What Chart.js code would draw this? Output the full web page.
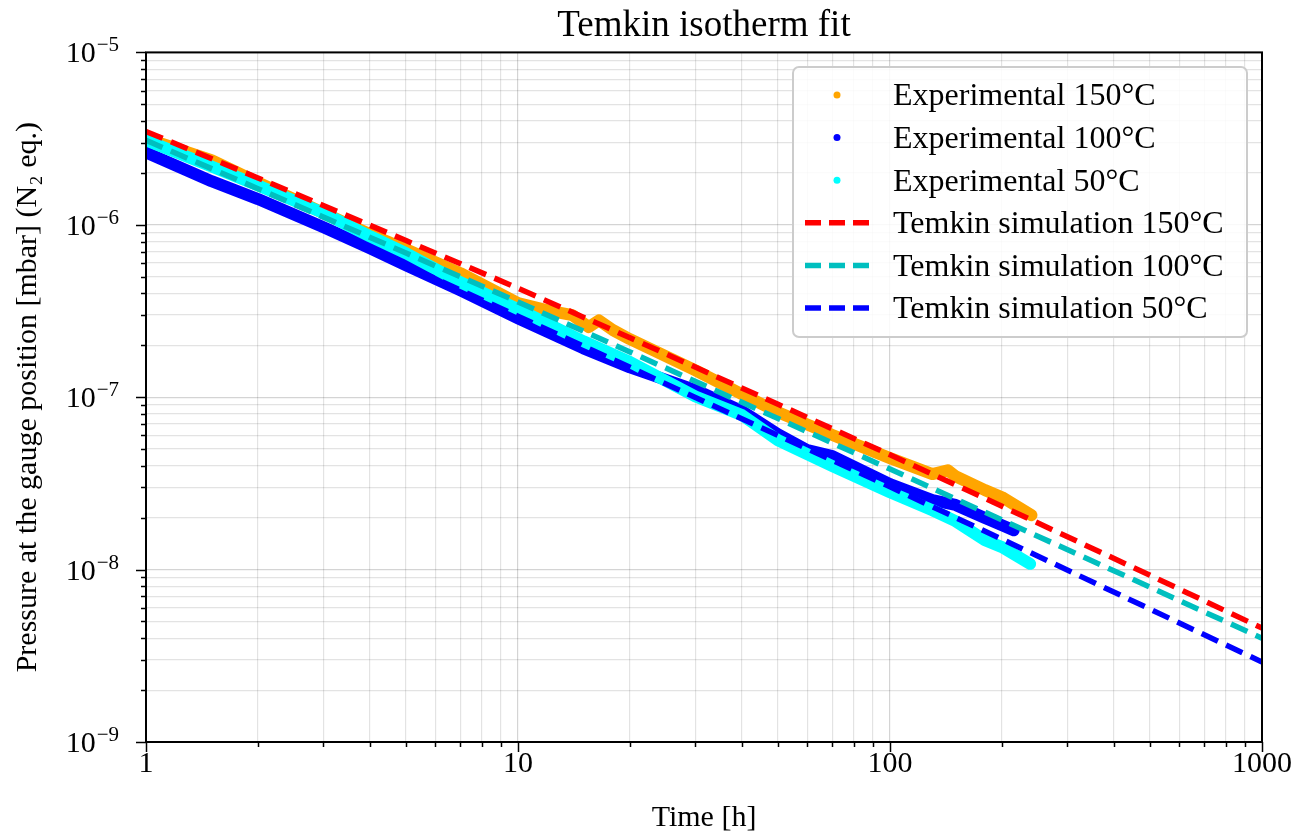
<!DOCTYPE html>
<html>
<head>
<meta charset="utf-8">
<script src="https://cdn.jsdelivr.net/npm/chart.js@4.4.0/dist/chart.umd.min.js"></script>
<style>
  html, body { margin: 0; padding: 0; background: #fff; }
  #wrap { width: 1294px; height: 836px; }
</style>
</head>
<body>
<div id="wrap"><canvas id="chart" width="1294" height="836"></canvas></div>
<script>
const FONT = '"Liberation Serif", "DejaVu Serif", serif';

// experimental data, time [h] and pressure [mbar]
const exp150Time = [1, 1.5, 2, 3, 4, 5, 7, 10, 12, 14, 15.5, 16.5, 18, 20, 30, 40, 50, 70, 100, 130, 143, 150, 180, 200, 240];
const exp150Pressure = [3.17e-6, 2.37e-6, 1.76e-6, 1.17e-6, 8.81e-7, 7.21e-7, 5.24e-7, 3.51e-7, 3.19e-7, 2.99e-7, 2.55e-7, 2.79e-7, 2.45e-7, 2.17e-7, 1.43e-7, 1.04e-7, 8.18e-8, 6.03e-8, 4.43e-8, 3.58e-8, 3.77e-8, 3.48e-8, 2.89e-8, 2.63e-8, 2.07e-8];

const exp100Time = [1, 1.5, 2, 3, 4, 5, 7, 10, 15, 20, 30, 40, 50, 60, 70, 100, 130, 150, 180, 200, 215];
const exp100Pressure = [2.63e-6, 1.79e-6, 1.41e-6, 9.68e-7, 7.31e-7, 5.82e-7, 4.17e-7, 2.87e-7, 1.92e-7, 1.49e-7, 1.10e-7, 8.30e-8, 6.10e-8, 4.93e-8, 4.55e-8, 3.13e-8, 2.53e-8, 2.37e-8, 1.99e-8, 1.81e-8, 1.69e-8];

const exp50Time = [1, 1.5, 2, 3, 4, 5, 7, 10, 15, 20, 30, 40, 50, 70, 100, 130, 150, 180, 200, 238];
const exp50Pressure = [3.09e-6, 2.18e-6, 1.69e-6, 1.17e-6, 8.58e-7, 6.84e-7, 4.64e-7, 3.24e-7, 2.11e-7, 1.60e-7, 1.01e-7, 7.87e-8, 5.63e-8, 3.98e-8, 2.81e-8, 2.21e-8, 1.91e-8, 1.48e-8, 1.35e-8, 1.08e-8];

// Temkin simulation curves
const simTime = [1, 2, 5, 10, 20, 50, 100, 200, 500, 1000];
const sim150 = [3.48e-6, 1.87e-6, 8.1e-7, 4.29e-7, 2.21e-7, 9.1e-8, 4.63e-8, 2.33e-8, 9.27e-9, 4.58e-9];
const sim100 = [3.09e-6, 1.62e-6, 6.86e-7, 3.57e-7, 1.83e-7, 7.52e-8, 3.83e-8, 1.94e-8, 7.91e-9, 4.0e-9];
const sim50 = [2.70e-6, 1.40e-6, 5.81e-7, 2.95e-7, 1.49e-7, 6.0e-8, 3.02e-8, 1.50e-8, 5.9e-9, 2.91e-9];

// ticks
const xMajorTicks = [1, 10, 100, 1000];
const xTickLabels = ['1', '10', '100', '1000'];
const yMajorTicks = [1e-9, 1e-8, 1e-7, 1e-6, 1e-5];
const yTickExponents = ['\u22129', '\u22128', '\u22127', '\u22126', '\u22125'];
const minorSteps = [2, 3, 4, 5, 6, 7, 8, 9];

const labels = ['Experimental 150°C', 'Experimental 100°C', 'Experimental 50°C',
  'Temkin simulation 150°C', 'Temkin simulation 100°C', 'Temkin simulation 50°C'];
const colors = ['#ffa500', '#0000ff', '#00ffff', '#ff0000', '#00bfbf', '#0000ff'];

function pts(xs, ys) { return xs.map((x, i) => ({ x: x, y: ys[i] })); }

function tickList(majors) {
  const out = [];
  majors.forEach((m, i) => {
    out.push({ value: m, major: true });
    if (i < majors.length - 1) minorSteps.forEach(k => out.push({ value: m * k, major: false }));
  });
  return out;
}

function expDataset(i, xs, ys, order) {
  return {
    label: labels[i], data: pts(xs, ys), borderColor: colors[i], backgroundColor: colors[i],
    borderWidth: 12, pointRadius: 0, borderJoinStyle: 'round', borderCapStyle: 'round',
    tension: 0, order: order
  };
}
function simDataset(i, ys, order) {
  return {
    label: labels[i], data: pts(simTime, ys), borderColor: colors[i], backgroundColor: colors[i],
    borderWidth: 5.5, borderDash: [18, 9], pointRadius: 0, tension: 0, order: order
  };
}

const decorations = {
  id: 'decorations',
  afterDatasetsDraw(chart) {
    const ctx = chart.ctx;
    const a = chart.chartArea;
    const xs = chart.scales.x, ys = chart.scales.y;
    ctx.save();
    ctx.strokeStyle = '#000';
    ctx.lineWidth = 1.5;
    xs.ticks.forEach(t => {
      const px = Math.round(xs.getPixelForValue(t.value)) + 0.5;
      const len = t.major ? 10 : 5;
      ctx.beginPath(); ctx.moveTo(px, a.bottom); ctx.lineTo(px, a.bottom + len); ctx.stroke();
    });
    ys.ticks.forEach(t => {
      const py = Math.round(ys.getPixelForValue(t.value)) + 0.5;
      const len = t.major ? 10 : 5;
      ctx.beginPath(); ctx.moveTo(a.left, py); ctx.lineTo(a.left - len, py); ctx.stroke();
    });
    ctx.lineWidth = 2;
    ctx.strokeRect(a.left, a.top, a.right - a.left, a.bottom - a.top);

    // y tick labels 10^n
    ctx.fillStyle = '#000';
    ctx.textBaseline = 'alphabetic';
    ctx.textAlign = 'left';
    yMajorTicks.forEach((v, i) => {
      const py = ys.getPixelForValue(v);
      ctx.font = '21px ' + FONT;
      const ew = ctx.measureText(yTickExponents[i]).width;
      ctx.font = '30px ' + FONT;
      const bw = ctx.measureText('10').width;
      const right = a.left - 27;
      ctx.fillText('10', right - ew - bw - 1, py + 10);
      ctx.font = '21px ' + FONT;
      ctx.fillText(yTickExponents[i], right - ew, py - 1);
    });
    ctx.restore();
  },
  afterDraw(chart) {
    const ctx = chart.ctx;
    ctx.save();
    const bx = 793, by = 67, bw = 454, bh = 270;
    ctx.beginPath();
    ctx.roundRect(bx, by, bw, bh, 6);
    ctx.fillStyle = 'rgba(255,255,255,0.85)';
    ctx.fill();
    ctx.strokeStyle = '#cccccc';
    ctx.lineWidth = 2;
    ctx.stroke();
    ctx.font = '32px ' + FONT;
    ctx.textBaseline = 'middle';
    ctx.textAlign = 'left';
    labels.forEach((lab, i) => {
      const y = 95 + i * 42.6;
      if (i < 3) {
        ctx.fillStyle = colors[i];
        ctx.beginPath(); ctx.arc(837, y, 3.5, 0, Math.PI * 2); ctx.fill();
      } else {
        ctx.strokeStyle = colors[i];
        ctx.lineWidth = 5.5;
        ctx.setLineDash([16, 8]);
        ctx.beginPath(); ctx.moveTo(805, y); ctx.lineTo(869, y); ctx.stroke();
        ctx.setLineDash([]);
      }
      ctx.fillStyle = '#000';
      ctx.fillText(lab, 893, y + 2);
    });
    ctx.restore();
  }
};

new Chart(document.getElementById('chart').getContext('2d'), {
  type: 'line',
  data: {
    datasets: [
      expDataset(0, exp150Time, exp150Pressure, 6),
      expDataset(1, exp100Time, exp100Pressure, 5),
      expDataset(2, exp50Time, exp50Pressure, 4),
      simDataset(3, sim150, 3),
      simDataset(4, sim100, 2),
      simDataset(5, sim50, 1)
    ]
  },
  options: {
    responsive: false,
    animation: false,
    devicePixelRatio: 1,
    layout: { padding: { left: 0, right: 32, top: 0, bottom: 0 } },
    plugins: {
      legend: { display: false },
      tooltip: { enabled: false },
      title: {
        display: true, text: 'Temkin isotherm fit', fullSize: false, color: '#000',
        font: { family: FONT, size: 37, weight: 'normal' }, padding: { top: 4, bottom: 4 }
      }
    },
    scales: {
      x: {
        type: 'logarithmic', min: 1, max: 1000,
        afterBuildTicks: s => { s.ticks = tickList(xMajorTicks); },
        afterFit: s => { s.height = 94; s.paddingRight = 0; s.paddingLeft = 0; },
        ticks: {
          autoSkip: false, maxRotation: 0, padding: 4, color: '#000',
          font: { family: FONT, size: 30 },
          callback: v => { const i = xMajorTicks.indexOf(v); return i >= 0 ? xTickLabels[i] : ''; }
        },
        grid: {
          drawTicks: false, lineWidth: 1.2,
          color: c => (c.tick && c.tick.major) ? 'rgba(0,0,0,0.17)' : 'rgba(0,0,0,0.11)'
        },
        border: { display: false },
        title: {
          display: true, text: 'Time [h]', color: '#000',
          font: { family: FONT, size: 30 }, padding: { top: 0, bottom: 0 }
        }
      },
      y: {
        type: 'logarithmic', min: 1e-9, max: 1e-5,
        afterBuildTicks: s => { s.ticks = tickList(yMajorTicks); },
        afterFit: s => { s.width = 146; },
        ticks: { autoSkip: false, callback: () => '' },
        grid: {
          drawTicks: false, lineWidth: 1.2,
          color: c => (c.tick && c.tick.major) ? 'rgba(0,0,0,0.17)' : 'rgba(0,0,0,0.11)'
        },
        border: { display: false },
        title: {
          display: true, text: 'Pressure at the gauge position [mbar] (N\u2082 eq.)', color: '#000',
          font: { family: FONT, size: 30 }, padding: { top: 10, bottom: 0 }
        }
      }
    }
  },
  plugins: [decorations]
});
</script>
</body>
</html>
